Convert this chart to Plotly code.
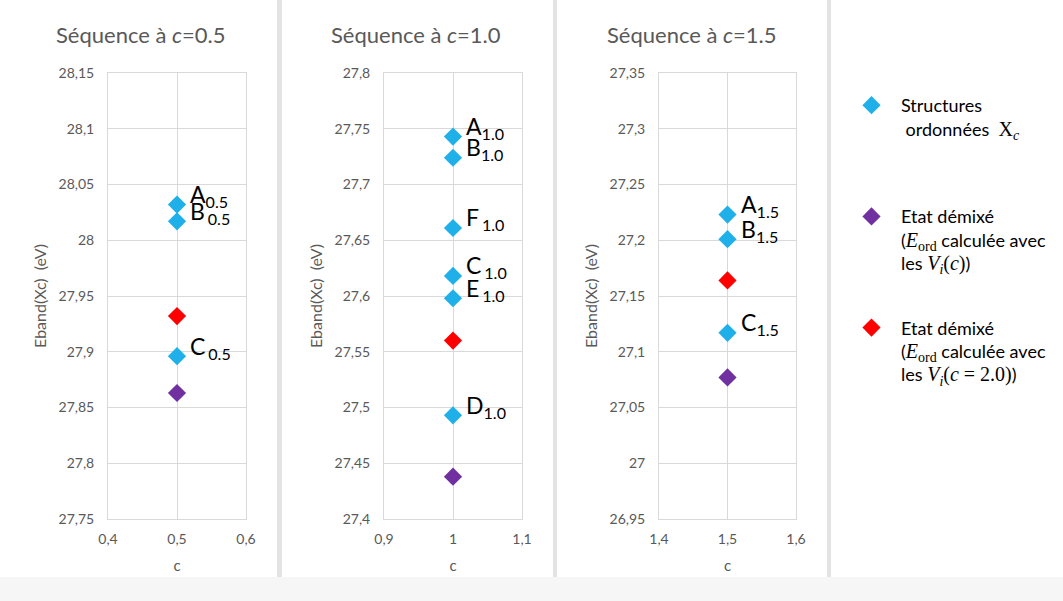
import plotly.graph_objects as go

# ---------------- data ----------------
c_values = [0.5, 1.0, 1.5]
panel_titles = ["Séquence à <i>c</i>=0.5", "Séquence à <i>c</i>=1.0", "Séquence à <i>c</i>=1.5"]

# ordered structures (blue)
ordered_labels_05 = ["A", "B", "C"]
ordered_values_05 = [28.032, 28.017, 27.896]
ordered_labels_10 = ["A", "B", "F", "C", "E", "D"]
ordered_values_10 = [27.743, 27.724, 27.661, 27.618, 27.598, 27.493]
ordered_labels_15 = ["A", "B", "C"]
ordered_values_15 = [27.223, 27.201, 27.117]

# demixed state, E_ord with V_i(c) (purple)
demix_vic = [27.863, 27.438, 27.077]
# demixed state, E_ord with V_i(c=2.0) (red)
demix_vi20 = [27.932, 27.560, 27.164]

# axis ranges and tick labels
y_ticks_05 = [27.75, 27.8, 27.85, 27.9, 27.95, 28.0, 28.05, 28.1, 28.15]
y_ticklabels_05 = ["27,75", "27,8", "27,85", "27,9", "27,95", "28", "28,05", "28,1", "28,15"]
y_ticks_10 = [27.4, 27.45, 27.5, 27.55, 27.6, 27.65, 27.7, 27.75, 27.8]
y_ticklabels_10 = ["27,4", "27,45", "27,5", "27,55", "27,6", "27,65", "27,7", "27,75", "27,8"]
y_ticks_15 = [26.95, 27.0, 27.05, 27.1, 27.15, 27.2, 27.25, 27.3, 27.35]
y_ticklabels_15 = ["26,95", "27", "27,05", "27,1", "27,15", "27,2", "27,25", "27,3", "27,35"]
x_ticks_05 = [0.4, 0.5, 0.6]
x_ticklabels_05 = ["0,4", "0,5", "0,6"]
x_ticks_10 = [0.9, 1.0, 1.1]
x_ticklabels_10 = ["0,9", "1", "1,1"]
x_ticks_15 = [1.4, 1.5, 1.6]
x_ticklabels_15 = ["1,4", "1,5", "1,6"]

# thin gap before subscript as in the reference
label_gap_05 = [False, True, True]
label_gap_10 = [False, False, True, True, True, False]
label_gap_15 = [False, False, False]

M = "<span style='font-family:\"Liberation Serif\";font-size:20px'>"
legend_names = [
    "Structures<br> ordonnées  " + M + "X<sub><i>c</i></sub></span><br> ",
    "Etat démixé<br>(" + M + "<i>E</i><sub>ord</sub></span> calculée avec<br>les "
    + M + "<i>V<sub>i</sub></i>(<i>c</i>)</span>)",
    "Etat démixé<br>(" + M + "<i>E</i><sub>ord</sub></span> calculée avec<br>les "
    + M + "<i>V<sub>i</sub></i>(<i>c</i> = 2.0)</span>)",
]

BLUE = "#1fb0ea"
PURPLE = "#7030a0"
RED = "#ff0000"
GRID = "#d9d9d9"
TXT = "#595959"
FONT = "Lato"

W, H = 1063, 601
x_domains = [(108 / W, 246 / W), (384 / W, 522 / W), (659 / W, 796 / W)]
y_domain = (82 / H, 1 - 73 / H)

panels = [
    (ordered_labels_05, ordered_values_05, label_gap_05, y_ticks_05, y_ticklabels_05, x_ticks_05, x_ticklabels_05),
    (ordered_labels_10, ordered_values_10, label_gap_10, y_ticks_10, y_ticklabels_10, x_ticks_10, x_ticklabels_10),
    (ordered_labels_15, ordered_values_15, label_gap_15, y_ticks_15, y_ticklabels_15, x_ticks_15, x_ticklabels_15),
]

fig = go.Figure()
annotations = []
marker_common = dict(symbol="diamond", size=14, line=dict(width=0))

for i, (labels, vals, gaps, yt, ytl, xt, xtl) in enumerate(panels):
    ax = "" if i == 0 else str(i + 1)
    c = c_values[i]
    first = i == 0
    fig.add_trace(go.Scatter(
        x=[c] * len(vals), y=vals, mode="markers", xaxis="x" + ax, yaxis="y" + ax,
        marker=dict(color=BLUE, **marker_common), name=legend_names[0],
        legendgroup="g1", showlegend=first, hoverinfo="skip"))
    fig.add_trace(go.Scatter(
        x=[c], y=[demix_vic[i]], mode="markers", xaxis="x" + ax, yaxis="y" + ax,
        marker=dict(color=PURPLE, **marker_common), name=legend_names[1],
        legendgroup="g2", showlegend=first, hoverinfo="skip"))
    fig.add_trace(go.Scatter(
        x=[c], y=[demix_vi20[i]], mode="markers", xaxis="x" + ax, yaxis="y" + ax,
        marker=dict(color=RED, **marker_common), name=legend_names[2],
        legendgroup="g3", showlegend=first, hoverinfo="skip"))

    sub = "%.1f" % c
    for lab, v, g in zip(labels, vals, gaps):
        txt = lab + ("\u2009" if g else "") + "<sub>" + sub + "</sub>"
        annotations.append(dict(
            x=c, y=v, xref="x" + ax, yref="y" + ax, text=txt, showarrow=False,
            xanchor="left", yanchor="middle", xshift=11, yshift=9,
            font=dict(family=FONT, size=23, color="black")))

    axis_common = dict(showgrid=True, gridcolor=GRID, gridwidth=1, showline=True,
                       linecolor=GRID, linewidth=1, mirror=True, zeroline=False,
                       automargin=False,
                       tickfont=dict(family=FONT, size=14, color=TXT), ticks="")
    fig.update_layout(**{
        "xaxis" + ax: dict(domain=list(x_domains[i]), range=[xt[0], xt[-1]],
                           tickvals=xt, ticktext=xtl, anchor="y" + ax,
                           ticklabelstandoff=7,
                           title=dict(text="c", font=dict(family=FONT, size=15, color=TXT), standoff=14),
                           **axis_common),
        "yaxis" + ax: dict(domain=list(y_domain), range=[yt[0], yt[-1]],
                           tickvals=yt, ticktext=ytl, anchor="x" + ax,
                           ticklabelstandoff=10,
                           title=dict(text="Eband(Xc)  (eV)", font=dict(family=FONT, size=16, color=TXT), standoff=7),
                           **axis_common),
    })

    panel_center = [141 / W, 416 / W, 692 / W][i]
    annotations.append(dict(
        x=panel_center, y=1 - 35 / H, xref="paper", yref="paper", text=panel_titles[i],
        showarrow=False, xanchor="center", yanchor="middle",
        font=dict(family=FONT, size=22, color=TXT)))

# decorative separators and bottom strip (screenshot frame)
shapes = []
for x0, x1 in [(277, 282), (553, 557), (827, 831)]:
    shapes.append(dict(type="rect", xref="paper", yref="paper", x0=x0 / W, x1=x1 / W,
                       y0=0, y1=1, fillcolor="#e3e3e3", line=dict(width=0), layer="below"))
shapes.append(dict(type="rect", xref="paper", yref="paper", x0=0, x1=1, y0=0, y1=24 / H,
                   fillcolor="#f6f6f6", line=dict(width=0), layer="below"))

fig.update_layout(
    width=W, height=H, margin=dict(l=0, r=0, t=0, b=0, autoexpand=False),
    plot_bgcolor="white", paper_bgcolor="white",
    annotations=annotations, shapes=shapes,
    legend=dict(x=842 / W, y=1 - 87 / H, xanchor="left", yanchor="top",
                xref="container", yref="container", maxheight=500,
                valign="top", tracegroupgap=38, itemwidth=49,
                font=dict(family=FONT, size=18, color="black"),
                bgcolor="rgba(0,0,0,0)"),
    showlegend=True,
)

fig.write_html("out.html", config={"displayModeBar": False},
               post_script="document.body.style.margin='0';document.body.style.overflow='hidden';")
